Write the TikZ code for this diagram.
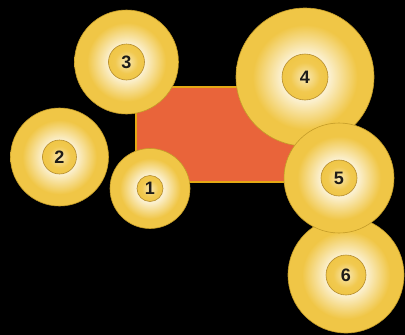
\documentclass[tikz,border=0pt]{standalone}
\usepackage{fontspec}
\setmainfont{Liberation Sans}
\usepackage{tikz}
\usetikzlibrary{shadings}

\definecolor{gold}{RGB}{240,198,70}
\definecolor{ringline}{RGB}{196,156,40}
\definecolor{coreline}{RGB}{180,140,46}
\definecolor{platefill}{RGB}{233,100,58}
\definecolor{plateline}{RGB}{228,168,20}
\definecolor{labeltext}{RGB}{30,28,24}

\pgfdeclareradialshading{ballglow}{\pgfpoint{0bp}{0bp}}{%
  color(0bp)=(white); color(9bp)=(white!72!gold); color(19bp)=(gold);
  color(25bp)=(gold); color(50bp)=(gold)}
\pgfdeclareradialshading{coreglow}{\pgfpoint{0bp}{0bp}}{%
  color(0bp)=(white!60!gold); color(16bp)=(gold!95!white);
  color(25bp)=(gold); color(50bp)=(gold)}

\begin{document}
\begin{tikzpicture}[
    x=1pt, y=-1pt,
    ball/.style={circle, draw=ringline, line width=0.6pt, shade, shading=ballglow,
                 inner sep=0pt},
    core/.style={circle, draw=coreline, line width=0.6pt, shade, shading=coreglow,
                 inner sep=0pt, text=labeltext, font=\fontsize{18}{18}\selectfont\bfseries},
    plate/.style={draw=plateline, line width=1.6pt, fill=platefill, inner sep=0pt}]

  \fill[black] (0,0) rectangle (405,335);
  \clip (0,0) rectangle (405,335);

  \node[plate, anchor=north west, minimum width=165pt, minimum height=95pt]
    (plate) at (135,86) {};

  % balls round the plate
  \node[ball, minimum size=80pt]  (b1) at (150,188.5) {};
  \node[core, minimum size=26pt]  (c1) at (b1) {1};
  \node[ball, minimum size=98pt]  (b2) at (59.5,157) {};
  \node[core, minimum size=34pt]  (c2) at (b2) {2};
  \node[ball, minimum size=104pt] (b3) at (126.5,62) {};
  \node[core, minimum size=36pt]  (c3) at (b3) {3};
  \node[ball, minimum size=138pt] (b4) at (305,77) {};
  \node[core, minimum size=46pt]  (c4) at (b4) {4};
  \node[ball, minimum size=116pt] (b6) at (346,275) {};
  \node[core, minimum size=40pt]  (c6) at (b6) {6};
  \node[ball, minimum size=110pt] (b5) at (339,178) {};
  \node[core, minimum size=36pt]  (c5) at (b5) {5};
\end{tikzpicture}
\end{document}
